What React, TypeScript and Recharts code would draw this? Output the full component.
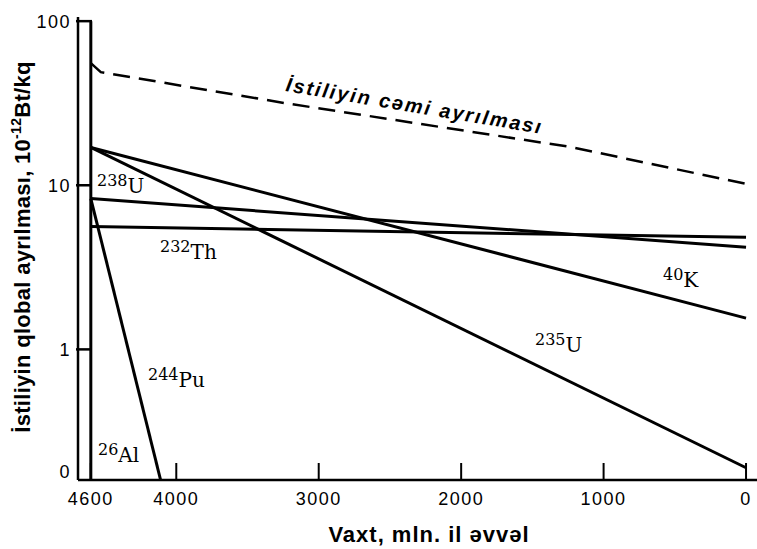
import React from 'react';
import { LineChart, Line, XAxis, YAxis } from 'recharts';

// time axis runs from 4600 Myr ago to today
const xTicks = [4600, 4000, 3000, 2000, 1000, 0];
const yTicks = [0.16, 1, 10, 100];
const yTickLabels = ['0', '1', '10', '100'];

// heat production, 10^-12 W/kg
const totalX = [4600, 4530, 3230, 1230, 0];
const totalY = [55.5, 48.9, 31.6, 17.1, 10.2];
const k40X = [4600, 0];
const k40Y = [17, 1.55];
const u235X = [4600, 0];
const u235Y = [17, 0.19];
const u238X = [4600, 0];
const u238Y = [8.3, 4.19];
const th232X = [4600, 0];
const th232Y = [5.6, 4.82];
const pu244X = [4600, 4110];
const pu244Y = [8.3, 0.16];
const al26X = [4600, 4600];
const al26Y = [100, 0.16];

const X_MIN = -77;
const X_MAX = 4690;

const toRows = (xs: number[], ys: number[]) => xs.map((x, i) => ({ x, y: ys[i] }));

const sans = '"Liberation Sans", Arial, sans-serif';
const serif = '"DejaVu Serif", "Liberation Serif", serif';

const XTick = ({ x, y, payload }: any) => (
  <g>
    <path d={`M${x},${y}V${y - 17}`} stroke="#000" strokeWidth={2} fill="none" />
    <text x={x} y={y + 25} textAnchor="middle" fontFamily={sans} fontSize={18} letterSpacing={1.5} fill="#000">
      {payload.value}
    </text>
  </g>
);

const YTick = ({ x, y, payload }: any) => {
  const i = yTicks.indexOf(payload.value);
  const isBottom = i === 0;
  return (
    <g>
      {!isBottom && <path d={`M${x - 2},${y}H${x + 14}`} stroke="#000" strokeWidth={2.5} fill="none" />}
      <text x={x - 7} y={isBottom ? y - 2 : y + 6.5} textAnchor="end" fontFamily={sans} fontSize={18} letterSpacing={1.5} fill="#000">
        {yTickLabels[i]}
      </text>
    </g>
  );
};

const Iso = ({ x, y, mass, sym }: { x: number; y: number; mass: string; sym: string }) => (
  <text x={x} y={y - 7} fontFamily={serif} fill="#000">
    <tspan fontSize={16}>{mass}</tspan>
    <tspan fontSize={20} dy={7}>{sym}</tspan>
  </text>
);

export default function App() {
  const lineProps = {
    dataKey: 'y',
    stroke: '#000',
    strokeWidth: 3,
    dot: false,
    activeDot: false,
    isAnimationActive: false,
    type: 'linear' as const,
  };

  return (
    <div style={{ position: 'absolute', left: 0, top: 0, background: '#fff' }}>
      <LineChart width={757} height={549} margin={{ top: 17, right: 0, bottom: 0, left: 0 }}>
        <XAxis
          dataKey="x"
          type="number"
          domain={[X_MIN, X_MAX]}
          reversed
          ticks={xTicks}
          interval={0}
          height={69}
          tickSize={0}
          tickMargin={0}
          tickLine={false}
          axisLine={{ stroke: '#000', strokeWidth: 2.5 }}
          tick={<XTick />}
          allowDataOverflow
        />
        <YAxis
          type="number"
          scale="log"
          domain={[0.16, 106]}
          ticks={yTicks}
          interval={0}
          width={78}
          tickSize={0}
          tickMargin={0}
          tickLine={false}
          axisLine={{ stroke: '#000', strokeWidth: 2.5 }}
          tick={<YTick />}
          allowDataOverflow
        />
        <Line {...lineProps} data={toRows(totalX, totalY)} strokeDasharray="17 9" strokeWidth={2.5} />
        <Line {...lineProps} data={toRows(k40X, k40Y)} />
        <Line {...lineProps} data={toRows(u235X, u235Y)} />
        <Line {...lineProps} data={toRows(u238X, u238Y)} />
        <Line {...lineProps} data={toRows(th232X, th232Y)} />
        <Line {...lineProps} data={toRows(pu244X, pu244Y)} />
        <Line {...lineProps} data={toRows(al26X, al26Y)} />

        <text
          x={285}
          y={91}
          transform="rotate(9.5 285 91)"
          fontFamily={sans}
          fontWeight="bold"
          fontStyle="italic"
          fontSize={20}
          letterSpacing={2}
          fill="#000"
        >
          İstiliyin cəmi ayrılması
        </text>

        <Iso x={97} y={193} mass="238" sym="U" />
        <Iso x={160} y={259} mass="232" sym="Th" />
        <Iso x={663} y={287} mass="40" sym="K" />
        <Iso x={535} y={352} mass="235" sym="U" />
        <Iso x={148} y={387} mass="244" sym="Pu" />
        <Iso x={98} y={462} mass="26" sym="Al" />

        <text x={429} y={542} textAnchor="middle" fontFamily={sans} fontWeight="bold" fontSize={22} letterSpacing={1} fill="#000">
          Vaxt, mln. il əvvəl
        </text>
        <text
          x={30}
          y={247}
          transform="rotate(-90 30 247)"
          textAnchor="middle"
          fontFamily={sans}
          fontWeight="bold"
          fontSize={22}
          letterSpacing={0.3}
          fill="#000"
        >
          İstiliyin qlobal ayrılması, 10
          <tspan fontSize={14} dy={-9}>-12</tspan>
          <tspan dy={9}>Bt/kq</tspan>
        </text>
      </LineChart>
    </div>
  );
}
